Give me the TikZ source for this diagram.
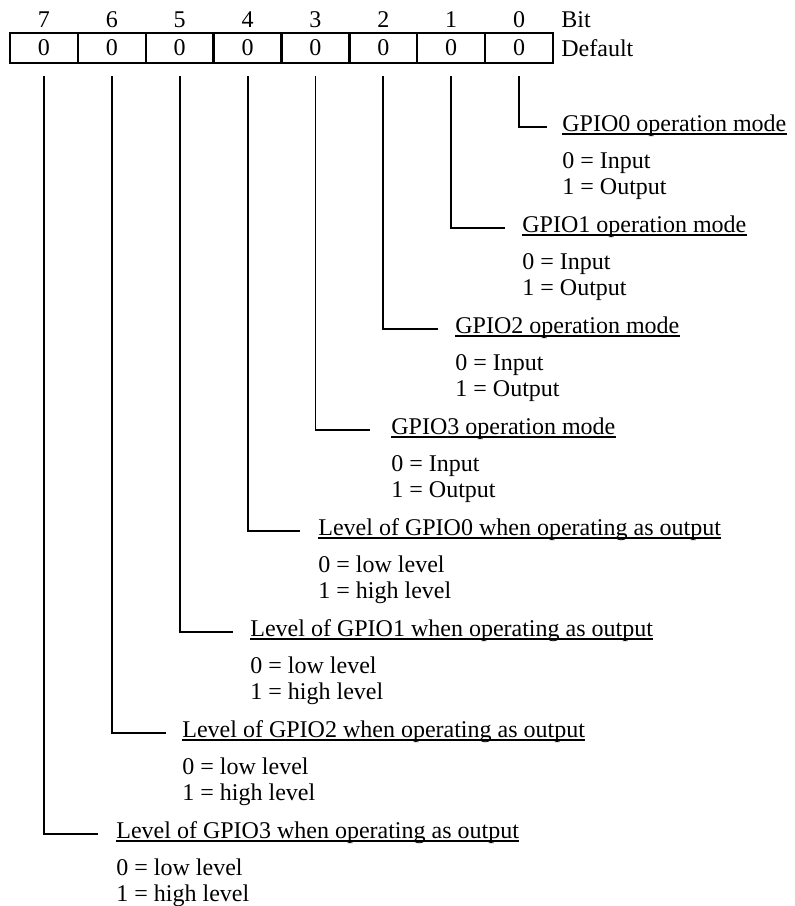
\documentclass[tikz,border=0pt]{standalone}
\usepackage{fontspec}
\setmainfont{Liberation Serif}
\usepackage{tikz}
\usetikzlibrary{positioning}
\tikzset{
	bitcell/.style ={rectangle, draw=black, line width=1.2pt, minimum width=33.94pt, minimum height=15pt, inner sep=0pt},
	bitnum/.style  ={inner sep=0pt},
	fieldtxt/.style={anchor=base west, inner sep=0pt},
	lead/.style    ={line width=0.9pt},
	uline/.style   ={line width=0.7pt},
}

\begin{document}
\begin{tikzpicture}[x=0.5pt, y=-0.5pt, font=\fontsize{12}{14}\selectfont]
					\useasboundingbox (0,0) rectangle (795,906);
					% bit numbers
					\node[bitnum] (b7) at (43.9,20) {7};
					\node[bitnum] (b6) at (111.8,20) {6};
					\node[bitnum] (b5) at (179.7,20) {5};
					\node[bitnum] (b4) at (247.6,20) {4};
					\node[bitnum] (b3) at (315.4,20) {3};
					\node[bitnum] (b2) at (383.3,20) {2};
					\node[bitnum] (b1) at (451.2,20) {1};
					\node[bitnum] (b0) at (519.1,20) {0};
					\node[fieldtxt, anchor=west] (bitlbl) at (561,20) {Bit};
					% register cells (default values)
					\node[bitcell] (c7) at (43.9,48) {0};
					\node[bitcell] (c6) at (111.8,48) {0};
					\node[bitcell] (c5) at (179.7,48) {0};
					\node[bitcell] (c4) at (247.6,48) {0};
					\node[bitcell] (c3) at (315.4,48) {0};
					\node[bitcell] (c2) at (383.3,48) {0};
					\node[bitcell] (c1) at (451.2,48) {0};
					\node[bitcell] (c0) at (519.1,48) {0};
					\node[fieldtxt, anchor=west] (deflbl) at (561,48) {Default};
					% bit 0
					\coordinate (e0) at (547,127);
					\node[fieldtxt] (t0) at (562,131) {GPIO0 operation mode};
					\node[fieldtxt] (t0a) at ([yshift=-18.5pt]t0.base west) {0 = Input};
					\node[fieldtxt] (t0b) at ([yshift=-13pt]t0a.base west) {1 = Output};
					% bit 1
					\coordinate (e1) at (505,228);
					\node[fieldtxt] (t1) at (522,232) {GPIO1 operation mode};
					\node[fieldtxt] (t1a) at ([yshift=-18.5pt]t1.base west) {0 = Input};
					\node[fieldtxt] (t1b) at ([yshift=-13pt]t1a.base west) {1 = Output};
					% bit 2
					\coordinate (e2) at (438,329);
					\node[fieldtxt] (t2) at (455,333) {GPIO2 operation mode};
					\node[fieldtxt] (t2a) at ([yshift=-18.5pt]t2.base west) {0 = Input};
					\node[fieldtxt] (t2b) at ([yshift=-13pt]t2a.base west) {1 = Output};
					% bit 3
					\coordinate (e3) at (370,430);
					\node[fieldtxt] (t3) at (391,434) {GPIO3 operation mode};
					\node[fieldtxt] (t3a) at ([yshift=-18.5pt]t3.base west) {0 = Input};
					\node[fieldtxt] (t3b) at ([yshift=-13pt]t3a.base west) {1 = Output};
					% bit 4
					\coordinate (e4) at (300,531);
					\node[fieldtxt] (t4) at (318,535) {Level of GPIO0 when operating as output};
					\node[fieldtxt] (t4a) at ([yshift=-18.5pt]t4.base west) {0 = low level};
					\node[fieldtxt] (t4b) at ([yshift=-13pt]t4a.base west) {1 = high level};
					% bit 5
					\coordinate (e5) at (233,632);
					\node[fieldtxt] (t5) at (250,636) {Level of GPIO1 when operating as output};
					\node[fieldtxt] (t5a) at ([yshift=-18.5pt]t5.base west) {0 = low level};
					\node[fieldtxt] (t5b) at ([yshift=-13pt]t5a.base west) {1 = high level};
					% bit 6
					\coordinate (e6) at (166,733);
					\node[fieldtxt] (t6) at (182,737) {Level of GPIO2 when operating as output};
					\node[fieldtxt] (t6a) at ([yshift=-18.5pt]t6.base west) {0 = low level};
					\node[fieldtxt] (t6b) at ([yshift=-13pt]t6a.base west) {1 = high level};
					% bit 7
					\coordinate (e7) at (98,834);
					\node[fieldtxt] (t7) at (116,838) {Level of GPIO3 when operating as output};
					\node[fieldtxt] (t7a) at ([yshift=-18.5pt]t7.base west) {0 = low level};
					\node[fieldtxt] (t7b) at ([yshift=-13pt]t7a.base west) {1 = high level};
					% leads from the cells
					\draw[lead] ([yshift=-6pt]c0.south) |- (e0);
					\draw[lead] ([yshift=-6pt]c1.south) |- (e1);
					\draw[lead] ([yshift=-6pt]c2.south) |- (e2);
					\draw[lead] ([yshift=-6pt]c3.south) |- (e3);
					\draw[lead] ([yshift=-6pt]c4.south) |- (e4);
					\draw[lead] ([yshift=-6pt]c5.south) |- (e5);
					\draw[lead] ([yshift=-6pt]c6.south) |- (e6);
					\draw[lead] ([yshift=-6pt]c7.south) |- (e7);
					% underlines
					\draw[uline] ([yshift=-1.5pt]t0.base west) -- ([yshift=-1.5pt]t0.base east);
					\draw[uline] ([yshift=-1.5pt]t1.base west) -- ([yshift=-1.5pt]t1.base east);
					\draw[uline] ([yshift=-1.5pt]t2.base west) -- ([yshift=-1.5pt]t2.base east);
					\draw[uline] ([yshift=-1.5pt]t3.base west) -- ([yshift=-1.5pt]t3.base east);
					\draw[uline] ([yshift=-1.5pt]t4.base west) -- ([yshift=-1.5pt]t4.base east);
					\draw[uline] ([yshift=-1.5pt]t5.base west) -- ([yshift=-1.5pt]t5.base east);
					\draw[uline] ([yshift=-1.5pt]t6.base west) -- ([yshift=-1.5pt]t6.base east);
					\draw[uline] ([yshift=-1.5pt]t7.base west) -- ([yshift=-1.5pt]t7.base east);
				\end{tikzpicture}
\end{document}
